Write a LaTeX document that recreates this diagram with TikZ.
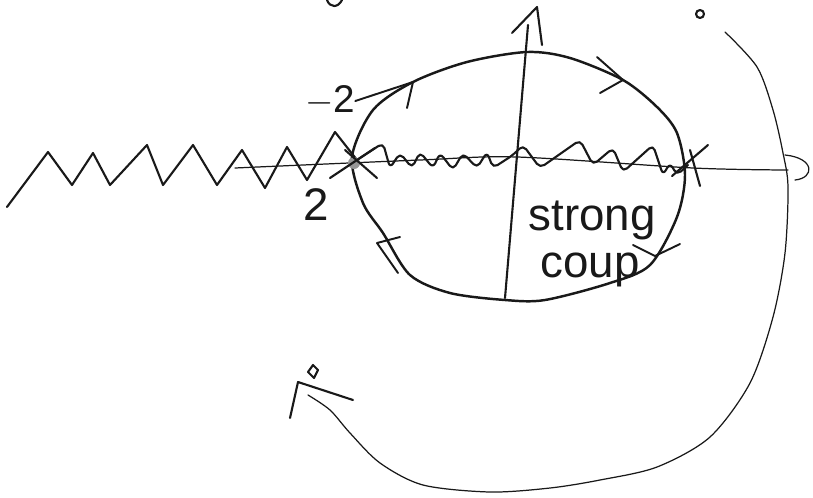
\documentclass[tikz,border=0pt]{standalone}
\usepackage{fontspec}
\setmainfont{Liberation Sans}
\usetikzlibrary{calc}
\definecolor{ink}{RGB}{25,25,25}
\definecolor{blot}{RGB}{150,150,150}
\tikzset{
  pen/.style={draw=ink,line width=1.2pt,line cap=round,line join=round},
  thinpen/.style={draw=ink,line width=0.7pt,line cap=round,line join=round},
  barb/.style={draw=ink,line width=1.1pt,line cap=round,line join=round},
  lbl/.style={font=\fontsize{26}{28}\selectfont,text=ink,inner sep=0pt},
  slbl/.style={font=\fontsize{22}{24}\selectfont,text=ink,inner sep=0pt},
}
\begin{document}
\begin{tikzpicture}[x=0.02cm,y=-0.02cm]
  \useasboundingbox (0,0) rectangle (813,497);
  % stray mark at the top edge
  \draw[pen] (327,0) .. controls (330,8) and (338,8) .. (342,0);
  % real axis
  \draw[thinpen] plot[smooth] coordinates {(235,168) (420,160) (517,157) (693,168) (788,170)};
  \draw[thinpen] (785,155) .. controls (815,158) and (815,178) .. (795,180);
  % imaginary axis
  \draw[pen] (505,298) -- (528,25);
  \draw[pen] (512,33) -- (537,7) -- (542,45);
  % the cut (zigzag)
  \draw[pen] plot coordinates {(7,207) (48,152) (72,185) (93,153) (110,185) (147,145)
    (163,185) (193,145) (217,185) (242,150) (265,188) (287,147) (307,180) (335,132) (357,160)};
  \draw[pen,rounded corners=3pt] plot coordinates {(357,160) (383,143) (390,168) (400,153)
    (412,168) (420,152) (433,168) (440,153) (453,170) (463,153) (477,168) (487,152)
    (493,168) (513,155) (523,145) (540,168) (580,140) (593,165) (613,148) (623,172)
    (653,145) (663,175) (670,163) (677,175) (688,165)};
  % contour
  \draw[pen,line width=1.4pt] plot[smooth cycle] coordinates {(352,157) (363,203) (383,233)
    (410,275) (450,293) (505,300) (545,300) (610,283) (650,265) (677,217) (685,175)
    (677,133) (657,107) (623,80) (570,58) (527,52) (467,62) (413,82) (373,110)};
  \coordinate (ul) at (413,82);
  \draw[barb] (ul) -- (407,108);
  \draw[barb] (597,57) -- (623,80) -- (600,93);
  \draw[barb] (633,245) -- (655,256) -- (680,244);
  \draw[barb] (400,237) -- (377,243) -- (398,273);
  % branch points
  \fill[blot] (354,163) circle (6);
  \draw[pen] (330,178) -- (375,148);
  \draw[pen] (345,150) -- (377,178);
  \draw[pen] (672,176) -- (708,145);
  \draw[pen] (690,150) -- (700,186);
  % labels
  \node[slbl] (mtwo) at (330,101) {$-$2};
  \draw[barb] (mtwo.east) -- (ul);
  \node[lbl] (two) at (316,205) {2};
  \node[lbl] (strong) at (592,220) {strong};
  \node[lbl] (coup) at (590,270) {coup};
  % large contour
  \draw[thinpen] plot[smooth] coordinates {(725,32) (757,67) (773,110) (783,153) (788,187)
    (785,253) (773,317) (750,383) (710,437) (657,467) (600,480) (550,488) (490,492)
    (423,485) (380,463) (350,433) (330,410) (308,395)};
  \draw[pen] (290,418) -- (298,382) -- (353,400);
  \draw[thinpen,line width=1.2pt] (700,14) circle (4);
  \draw[thinpen,line width=1.2pt] (313,365) -- (318,370) -- (314,378) -- (308,372) -- cycle;
\end{tikzpicture}
\end{document}
